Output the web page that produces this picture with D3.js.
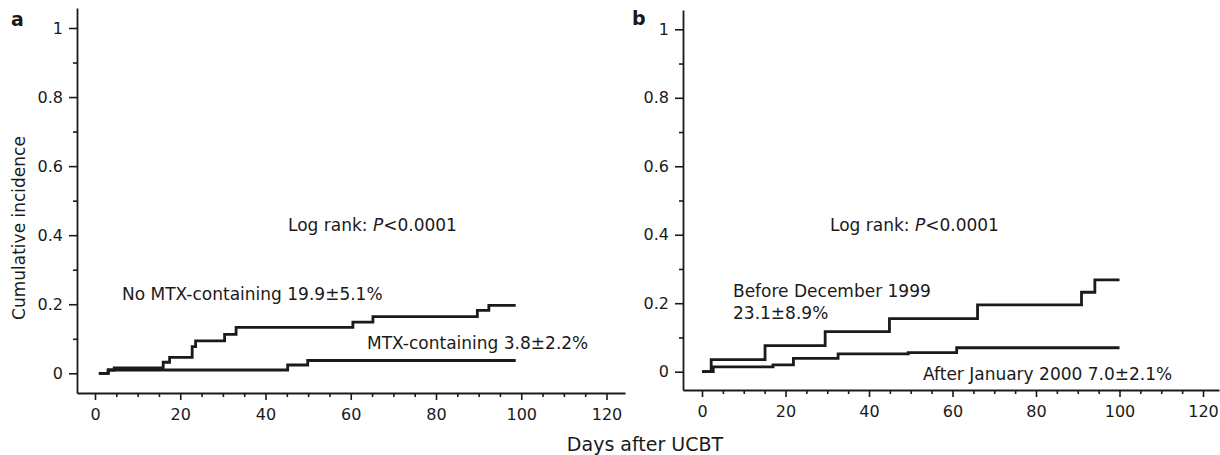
<!DOCTYPE html>
<html>
<head>
<meta charset="utf-8">
<script src="https://cdn.jsdelivr.net/npm/d3@7/dist/d3.min.js"></script>
<style>
  html, body { margin: 0; padding: 0; background: #fff; }
  svg { display: block; }
  text { font-family: "DejaVu Sans", sans-serif; fill: #1a1a1a; }
</style>
</head>
<body>
<svg id="chart" width="1220" height="455"></svg>
<script>
// ---------- data ----------
const xTicks = [0, 20, 40, 60, 80, 100, 120];
const xMinorTicks = d3.range(0, 121, 5);
const yTicks = [0, 0.2, 0.4, 0.6, 0.8, 1];
const yTickLabels = ["0", "0.2", "0.4", "0.6", "0.8", "1"];
const yMinorTicks = d3.range(0, 1.01, 0.1);

// Panel a
const aNoMtxDays   = [0.9, 3.1,   4.5,   16.0,  17.5,  22.8,  23.6,  30.4,  33.1,  60.5,  65.2,  89.7,  92.4,  98.7];
const aNoMtxValues = [0,   0.0096, 0.016, 0.032, 0.046, 0.077, 0.094, 0.113, 0.133, 0.148, 0.164, 0.182, 0.197, 0.197];
const aMtxDays     = [0.9, 3.1,    45.2,  49.9,  98.7];
const aMtxValues   = [0,   0.0096, 0.024, 0.037, 0.037];

// Panel b
const bBeforeDays   = [0, 2.2,   15.1,  29.5,  44.9,  66.0,  90.9,  94.1,  100.0];
const bBeforeValues = [0, 0.035, 0.076, 0.117, 0.155, 0.195, 0.232, 0.268, 0.268];
const bAfterDays    = [0, 2.7,   17.0,  21.9,  32.6,  49.4,  61.0,  100.0];
const bAfterValues  = [0, 0.014, 0.02,  0.039, 0.052, 0.056, 0.070, 0.070];

const panels = [
  {
    letter: "a",
    series: [
      {days: aNoMtxDays, values: aNoMtxValues},
      {days: aMtxDays, values: aMtxValues}
    ],
    logRank: {x: 288, y: 231},
    labels: [
      {x: 122, y: 300, lines: ["No MTX-containing 19.9\u00b15.1%"]},
      {x: 367, y: 349, lines: ["MTX-containing 3.8\u00b12.2%"]}
    ],
    geom: {axisX: 77, x0px: 95, x120px: 606.5, xEndPx: 625, y0px: 373.3, y1px: 28, yTopPx: 8, axisY: 393},
    letterPos: {x: 11, y: 26},
    showYTitle: true
  },
  {
    letter: "b",
    series: [
      {days: bBeforeDays, values: bBeforeValues},
      {days: bAfterDays, values: bAfterValues}
    ],
    logRank: {x: 830, y: 231},
    labels: [
      {x: 733, y: 297, lines: ["Before December 1999", "23.1\u00b18.9%"]},
      {x: 923, y: 380, lines: ["After January 2000 7.0\u00b12.1%"]}
    ],
    geom: {axisX: 683, x0px: 702, x120px: 1203, xEndPx: 1219, y0px: 371.7, y1px: 29.3, yTopPx: 10, axisY: 390},
    letterPos: {x: 632, y: 25},
    showYTitle: false
  }
];

const svg = d3.select("#chart");
const ink = "#1a1a1a";

panels.forEach(p => {
  const g = p.geom;
  const x = d3.scaleLinear().domain([0, 120]).range([g.x0px, g.x120px]);
  const y = d3.scaleLinear().domain([0, 1]).range([g.y0px, g.y1px]);
  const xMin = x.invert(g.axisX), xMax = x.invert(g.xEndPx);
  const yMin = y.invert(g.axisY), yMax = y.invert(g.yTopPx);
  const xs = x.copy().domain([xMin, xMax]).range([g.axisX, g.xEndPx]);
  const ys = y.copy().domain([yMin, yMax]).range([g.axisY, g.yTopPx]);

  const panel = svg.append("g");

  // X axis (major)
  const xAxis = d3.axisBottom(xs).tickValues(xTicks).tickSize(7).tickPadding(9).tickSizeOuter(0);
  const xg = panel.append("g").attr("transform", `translate(0,${g.axisY})`).call(xAxis);
  // X axis minor
  panel.append("g").attr("transform", `translate(0,${g.axisY})`)
    .call(d3.axisBottom(xs).tickValues(xMinorTicks.filter(v => !xTicks.includes(v))).tickSize(4).tickFormat("").tickSizeOuter(0))
    .select(".domain").remove();

  // Y axis (major)
  const yAxis = d3.axisLeft(ys).tickValues(yTicks).tickSize(8).tickPadding(6).tickSizeOuter(0)
    .tickFormat((d, i) => yTickLabels[i]);
  const yg = panel.append("g").attr("transform", `translate(${g.axisX},0)`).call(yAxis);
  panel.append("g").attr("transform", `translate(${g.axisX},0)`)
    .call(d3.axisLeft(ys).tickValues(yMinorTicks.filter(v => !yTicks.some(t => Math.abs(t - v) < 1e-6))).tickSize(4).tickFormat("").tickSizeOuter(0))
    .select(".domain").remove();

  panel.selectAll(".domain").attr("stroke", ink).attr("stroke-width", 1.8);
  panel.selectAll(".tick line").attr("stroke", ink).attr("stroke-width", 1.6);
  xg.selectAll(".tick text").attr("font-size", 16).attr("font-family", "DejaVu Sans").attr("fill", ink);
  yg.selectAll(".tick text").attr("font-size", 16).attr("font-family", "DejaVu Sans").attr("fill", ink);

  // curves
  const line = d3.line().x(d => xs(d[0])).y(d => ys(d[1])).curve(d3.curveStepAfter);
  p.series.forEach(s => {
    const pts = s.days.map((d, i) => [d, s.values[i]]);
    panel.append("path").datum(pts).attr("d", line)
      .attr("fill", "none").attr("stroke", ink).attr("stroke-width", 2.8)
      .attr("stroke-linejoin", "miter").attr("stroke-linecap", "butt");
  });

  // log-rank annotation
  const lr = panel.append("text").attr("x", p.logRank.x).attr("y", p.logRank.y).attr("font-size", 17);
  lr.append("tspan").text("Log rank: ");
  lr.append("tspan").attr("font-style", "italic").text("P");
  lr.append("tspan").text("<0.0001");

  p.labels.forEach(l => {
    const t = panel.append("text").attr("x", l.x).attr("y", l.y).attr("font-size", 17);
    l.lines.forEach((ln, i) => t.append("tspan").attr("x", l.x).attr("dy", i === 0 ? 0 : 22).text(ln));
  });

  // panel letter
  panel.append("text").attr("x", p.letterPos.x).attr("y", p.letterPos.y)
    .attr("font-size", 19).attr("font-weight", "bold").text(p.letter);

  if (p.showYTitle) {
    panel.append("text").attr("transform", `translate(25,228) rotate(-90)`)
      .attr("text-anchor", "middle").attr("font-size", 17).text("Cumulative incidence");
  }
});

svg.append("text").attr("x", 645).attr("y", 451).attr("text-anchor", "middle")
  .attr("font-size", 19).text("Days after UCBT");
</script>
</body>
</html>
